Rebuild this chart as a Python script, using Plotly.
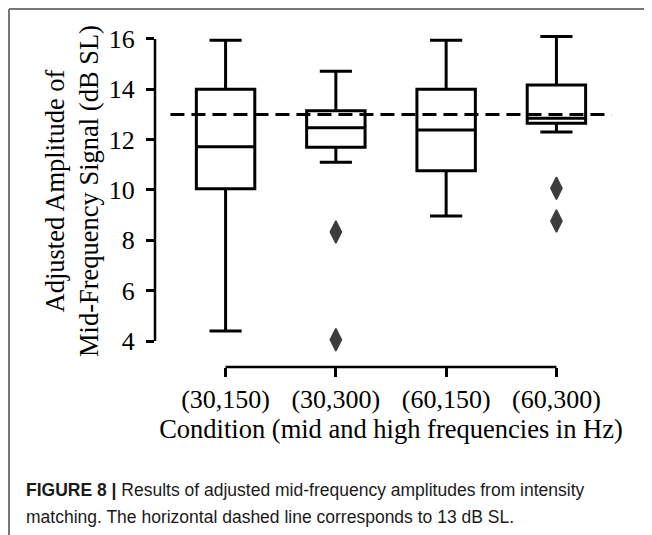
import plotly.graph_objects as go

# ---- data ----
conditions = ["(30,150)", "(30,300)", "(60,150)", "(60,300)"]
positions = [0, 1, 2, 3]
upper_whisker = [15.95, 14.72, 15.95, 16.10]
q3_vals = [14.00, 13.15, 14.00, 14.17]
medians = [11.72, 12.47, 12.38, 12.85]
q1_vals = [10.05, 11.70, 10.76, 12.65]
lower_whisker = [4.40, 11.10, 8.97, 12.30]
outlier_x = [1, 1, 3, 3]
outlier_y = [8.33, 4.05, 10.07, 8.77]
reference_level = 13
y_ticks = [4, 6, 8, 10, 12, 14, 16]

# page has an 8px body margin; work in page pixels and convert
OFF = 8
W, H = 652 - OFF, 535 - OFF
def px_x(p):
    return (p - OFF) / W
def px_y(p):
    return (H - (p - OFF)) / H

SERIF = "Liberation Serif"
SANS = "Liberation Sans"

fig = go.Figure()
fig.add_trace(go.Box(
    x=positions, q1=q1_vals, median=medians, q3=q3_vals,
    lowerfence=lower_whisker, upperfence=upper_whisker,
    fillcolor="white", line=dict(color="black", width=3),
    width=0.53, whiskerwidth=0.55, boxpoints=False, showlegend=False,
    hoverinfo="skip",
))
fig.add_trace(go.Scatter(
    x=outlier_x, y=outlier_y, mode="markers",
    marker=dict(symbol="diamond-tall", size=16, color="#3d3d3d",
                line=dict(color="#3d3d3d", width=1.5)),
    showlegend=False, hoverinfo="skip",
))

shapes = [
    # dashed reference line
    dict(type="line", xref="x", yref="y", x0=-0.5, x1=3.5,
         y0=reference_level, y1=reference_level,
         line=dict(color="black", width=3, dash="14px,7px"), layer="above"),
    # trimmed spines
    dict(type="line", xref="x domain", yref="y", x0=0, x1=0, y0=4, y1=16,
         line=dict(color="black", width=2.5)),
    dict(type="line", xref="x", yref="y domain", x0=0, x1=3, y0=0, y1=0,
         line=dict(color="black", width=2.5)),
    # figure frame
    dict(type="line", xref="paper", yref="paper", x0=px_x(9), x1=1,
         y0=px_y(9), y1=px_y(9), line=dict(color="#777777", width=2)),
    dict(type="line", xref="paper", yref="paper", x0=px_x(9), x1=px_x(9),
         y0=px_y(9), y1=0, line=dict(color="#777777", width=2)),
]

annotations = [
    dict(text="Adjusted Amplitude of<br>Mid-Frequency Signal (dB SL)",
         xref="paper", yref="paper", x=px_x(72), y=px_y(191),
         xanchor="center", yanchor="middle", textangle=-90, showarrow=False,
         font=dict(family=SERIF, size=26.5, color="black")),
    dict(text="<b>FIGURE 8 |</b> Results of adjusted mid-frequency amplitudes from intensity",
         xref="paper", yref="paper", x=px_x(24), y=px_y(490),
         xanchor="left", yanchor="middle", showarrow=False,
         font=dict(family=SANS, size=17.5, color="#1a1a1a")),
    dict(text="matching. The horizontal dashed line corresponds to 13 dB SL.",
         xref="paper", yref="paper", x=px_x(24), y=px_y(517),
         xanchor="left", yanchor="middle", showarrow=False,
         font=dict(family=SANS, size=17.5, color="#1a1a1a")),
]

fig.update_layout(
    width=W, height=H, margin=dict(l=0, r=0, t=0, b=0),
    paper_bgcolor="white", plot_bgcolor="white",
    shapes=shapes, annotations=annotations,
    xaxis=dict(domain=[px_x(155), px_x(627)], range=[-0.64, 3.64],
               tickmode="array", tickvals=positions, ticktext=conditions,
               ticks="outside", ticklen=9, tickwidth=2.5, tickcolor="black",
               showline=False, showgrid=False, zeroline=False,
               tickfont=dict(family=SERIF, size=26, color="black"),
               title=dict(text="Condition (mid and high frequencies in Hz)",
                          font=dict(family=SERIF, size=26.5, color="black"),
                          standoff=6)),
    yaxis=dict(domain=[px_y(367), px_y(25)], range=[2.967, 16.555],
               tickmode="array", tickvals=y_ticks,
               ticks="outside", ticklen=8, tickwidth=2.5, tickcolor="black",
               showline=False, showgrid=False, zeroline=False,
               ticklabelstandoff=6,
               tickfont=dict(family=SERIF, size=26, color="black")),
)

fig.write_html("out.html")
